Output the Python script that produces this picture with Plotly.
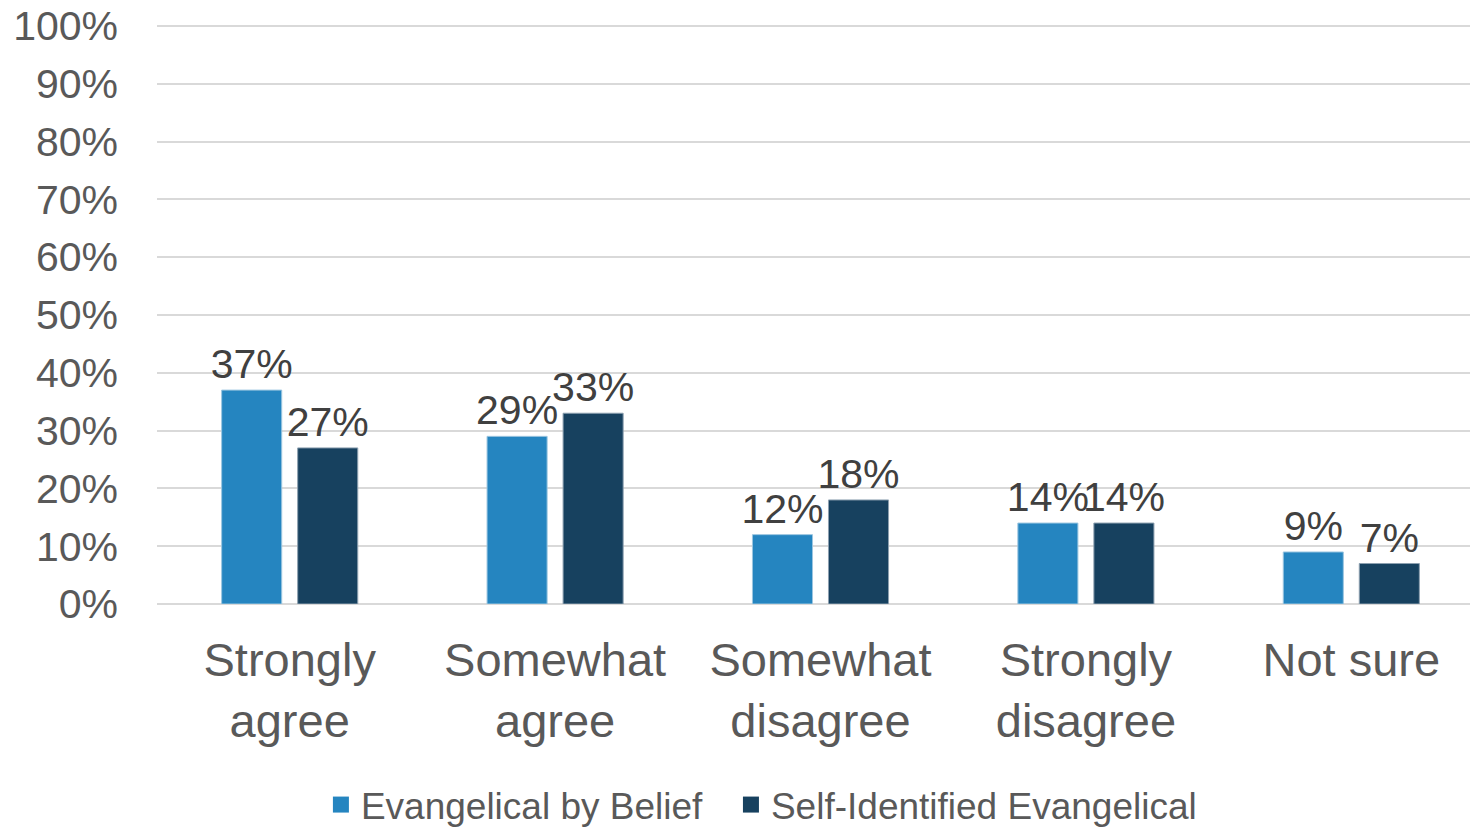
import plotly.graph_objects as go

categories = ["Strongly<br>agree", "Somewhat<br>agree", "Somewhat<br>disagree", "Strongly<br>disagree", "Not sure"]
belief = [37, 29, 12, 14, 9]
self_id = [27, 33, 18, 14, 7]
series_names = ["Evangelical by Belief", "Self-Identified Evangelical"]
series_colors = ["#2585C0", "#17415F"]
tick_vals = list(range(0, 101, 10))
tick_text = [f"{v}%" for v in tick_vals]

FONT = "Liberation Sans, Arial, sans-serif"
W, H = 1476, 828

fig = go.Figure()
for vals, name, color, edge in zip([belief, self_id], series_names, series_colors, ["#9cc6e0", "#8da0b0"]):
    fig.add_trace(go.Bar(
        x=categories, y=vals, name=name, showlegend=False,
        marker=dict(color=color, line=dict(color=edge, width=1)),
        text=[f"{v}%" for v in vals], textposition="outside", constraintext="none",
        textfont=dict(size=41, color="#404040", family=FONT), cliponaxis=False,
    ))

# legend entries (square swatches like the original)
for name, color, leg in zip(series_names, series_colors, ["legend", "legend2"]):
    fig.add_trace(go.Scatter(
        x=[None], y=[None], mode="markers", name=name, legend=leg,
        marker=dict(symbol="square", size=16, color=color, line=dict(width=0)),
        hoverinfo="skip",
    ))

legend_common = dict(
    orientation="h", xref="container", yref="paper",
    xanchor="left", yanchor="middle", y=-0.346,
    font=dict(size=37, color="#595959"),
    itemwidth=30, itemsizing="trace", bgcolor="rgba(0,0,0,0)",
)

fig.update_layout(
    width=W, height=H,
    margin=dict(l=149, r=0, t=15, b=232, autoexpand=False),
    paper_bgcolor="white", plot_bgcolor="white",
    barmode="group", bargap=0.427, bargroupgap=0.21,
    font=dict(family=FONT, color="#595959"),
    showlegend=True,
    legend=dict(x=0.2120, **legend_common),
    legend2=dict(x=0.4898, **legend_common),
)
fig.update_yaxes(
    range=[0, 100.5], tickvals=tick_vals, ticktext=tick_text,
    showgrid=True, gridcolor="#d9d9d9", gridwidth=2,
    zeroline=True, zerolinecolor="#d9d9d9", zerolinewidth=2,
    tickfont=dict(size=41, color="#595959"), ticklabeloverflow="allow",
    ticklabelstandoff=38, showline=False, ticks="", automargin=False,
)
fig.update_xaxes(
    tickfont=dict(size=47, color="#595959"), ticklabeloverflow="allow",
    showline=False, ticks="", ticklabelstandoff=24, automargin=False,
)

fig.write_html("out.html")
